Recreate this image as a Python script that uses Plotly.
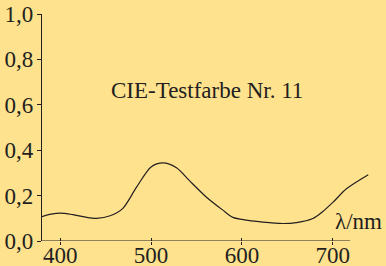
import plotly.graph_objects as go

wavelength = [380, 390, 400, 414, 428, 440, 455, 469, 484, 500, 513, 528, 542, 561, 579, 590, 600, 623, 645, 660, 678, 689, 700, 715, 739]
reflectance = [0.107, 0.118, 0.123, 0.116, 0.105, 0.100, 0.111, 0.144, 0.237, 0.326, 0.344, 0.323, 0.267, 0.193, 0.136, 0.104, 0.095, 0.083, 0.077, 0.081, 0.099, 0.130, 0.170, 0.230, 0.292]

x_ticks = [400, 500, 600, 700]
x_ticktext = ["400", "500", "600", "700"]
y_ticks = [0, 0.2, 0.4, 0.6, 0.8, 1.0]
y_ticktext = ["0,0", "0,2", "0,4", "0,6", "0,8", "1,0"]

title_text = "CIE-Testfarbe Nr. 11"
x_label = "λ/nm"

bg = "#FEE28E"
ink = "#231F20"
font = dict(family="Liberation Serif, Times New Roman, serif", size=23, color=ink)

fig = go.Figure()
fig.add_trace(go.Scatter(x=wavelength, y=reflectance, mode="lines",
                         line=dict(color=ink, width=1.2, shape="spline", smoothing=0.8),
                         hoverinfo="skip", showlegend=False))

fig.update_layout(
    width=386, height=266,
    margin=dict(l=42, r=15, t=14, b=25, autoexpand=False),
    paper_bgcolor=bg, plot_bgcolor=bg,
    font=font,
    xaxis=dict(range=[380, 742], tickvals=x_ticks, ticktext=x_ticktext,
               showline=False, showgrid=False, zeroline=False, automargin=False,
               ticks="outside", ticklen=3, tickwidth=1, tickcolor=ink,
               minor=dict(tickvals=x_ticks, ticks="inside", ticklen=3, tickwidth=1, tickcolor=ink),
               ticklabelstandoff=-10,
               tickfont=font, fixedrange=True),
    yaxis=dict(range=[0, 1.0], tickvals=y_ticks, ticktext=y_ticktext,
               showline=True, linecolor=ink, linewidth=1.2, automargin=False,
               showgrid=False, zeroline=False,
               ticks="outside", ticklen=4, tickwidth=1, tickcolor=ink,
               ticklabelstandoff=-1,
               tickfont=font, fixedrange=True),
    shapes=[dict(type="line", xref="x", yref="y", x0=380, x1=719, y0=0, y1=0,
                 line=dict(color=ink, width=1.2))],
    annotations=[
        dict(text=title_text, xref="paper", yref="paper", x=0.5015, y=0.665,
             xanchor="center", yanchor="middle", showarrow=False, font=font),
        dict(text=x_label, xref="paper", yref="paper", x=1.04, y=0.084,
             xanchor="right", yanchor="middle", showarrow=False, font=font),
    ],
)

fig.write_html("out.html", config={"displayModeBar": False},
               post_script="document.body.style.margin='0';document.body.style.overflow='hidden';document.body.style.background='" + bg + "';")
